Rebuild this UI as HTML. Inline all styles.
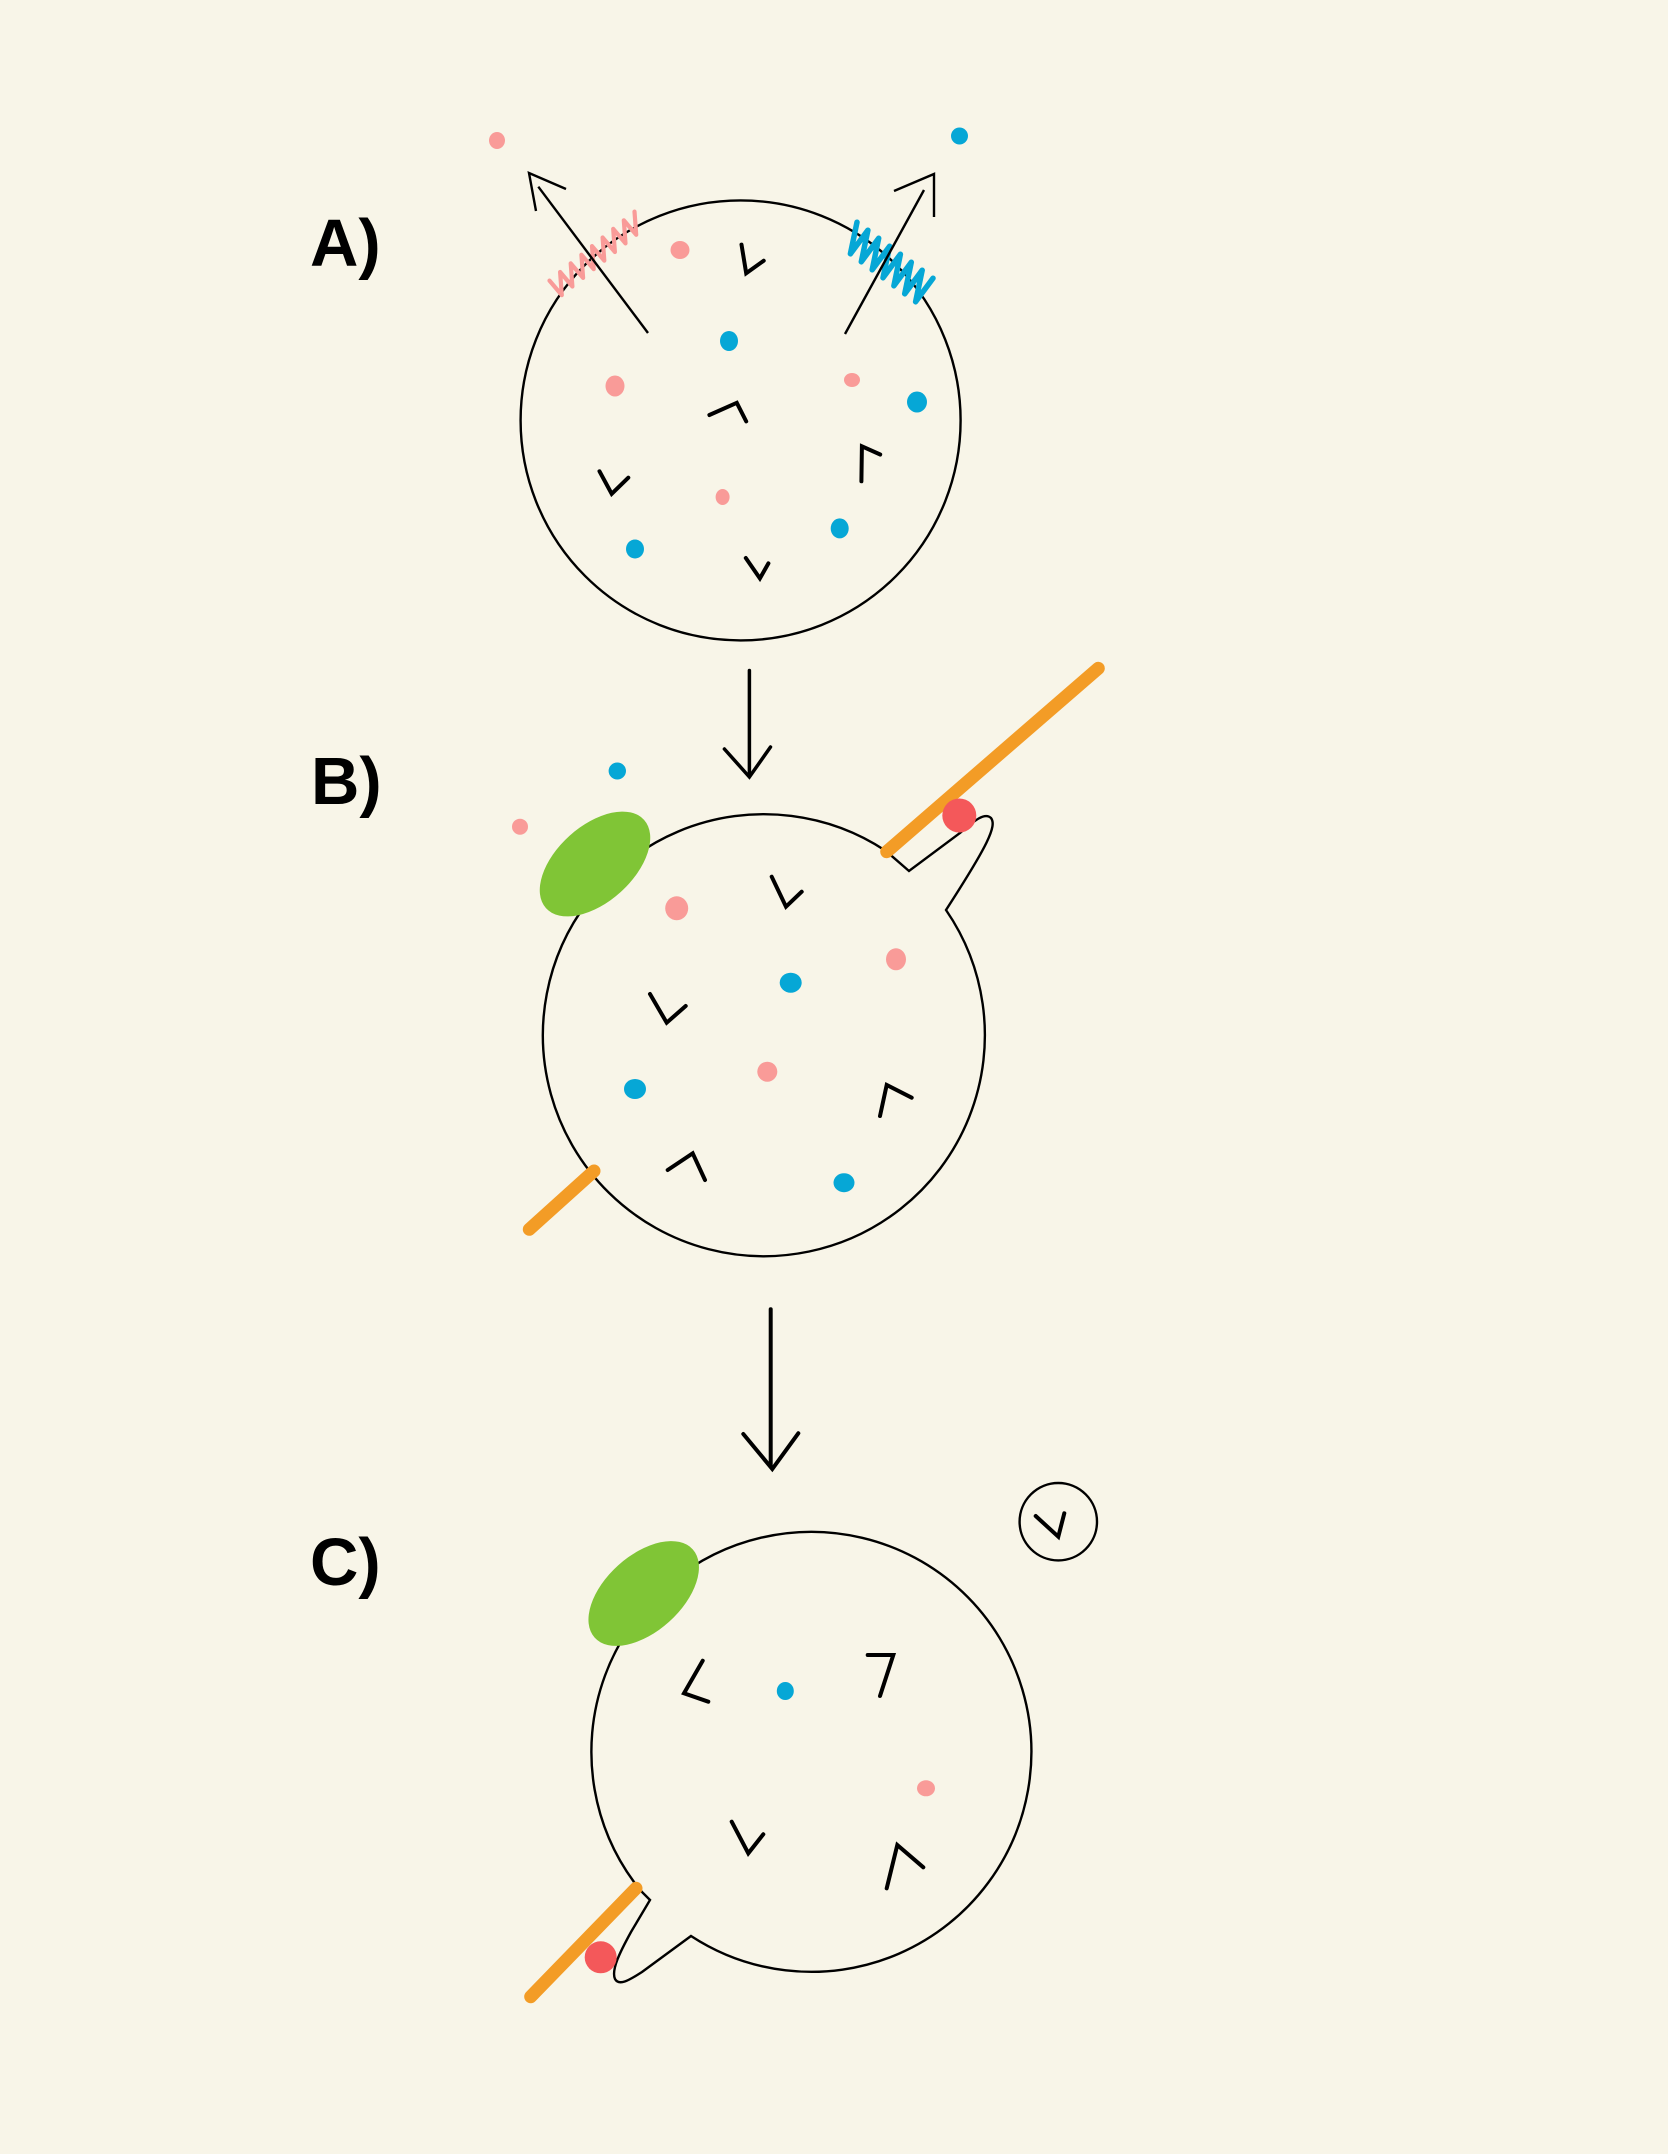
<!DOCTYPE html>
<html>
<head>
<meta charset="utf-8">
<style>
  html, body { margin: 0; padding: 0; background: #f8f5e8; }
  svg { display: block; }
  .lbl { font-family: "Liberation Sans", Arial, sans-serif; font-weight: bold; font-size: 67px; fill: #000; }
</style>
</head>
<body>
<svg width="1668" height="2154" viewBox="0 0 1668 2154" xmlns="http://www.w3.org/2000/svg">
  <rect x="0" y="0" width="1668" height="2154" fill="#f8f5e8"/>

  <!-- Labels -->
  <text class="lbl" x="310" y="266">A)</text>
  <text class="lbl" x="311" y="804">B)</text>
  <text class="lbl" x="310" y="1585">C)</text>

  <!-- ================= PANEL A ================= -->
  <circle cx="740.6" cy="420.4" r="220" fill="none" stroke="#000" stroke-width="2.4"/>

  <!-- pink spring -->
  <polyline fill="none" stroke="#f99b98" stroke-width="4.2" stroke-linejoin="round" stroke-linecap="round"
    points="549.5,280.6 561.8,295.1 560.1,272 572.4,286.5 570.7,263.4 583.1,277.9 581.4,254.7 593.7,269.2 592,246.1 604.3,260.6 602.6,237.5 614.9,252 613.2,228.9 625.5,243.4 623.8,220.3 636.2,234.8 634.5,211.6"/>
  <!-- blue spring -->
  <polyline fill="none" stroke="#06a7d6" stroke-width="5.5" stroke-linejoin="round" stroke-linecap="round"
    points="857,222.2 850.4,253.8 867.9,230.2 861.3,261.8 878.7,238.2 872.2,269.8 889.6,246.2 883,277.8 900.4,254.2 893.9,285.8 911.3,262.2 904.7,293.8 922.2,270.2 915.6,301.8 933,278.2"/>

  <!-- arrows A -->
  <g fill="none" stroke="#000" stroke-width="2.4" stroke-linecap="butt" stroke-linejoin="miter">
    <line x1="648" y1="333" x2="538.3" y2="186.7"/>
    <polyline points="566,189 529,173 536,211"/>
    <line x1="845" y1="334" x2="924" y2="190"/>
    <polyline points="894,191 934,174 934,217"/>
  </g>

  <!-- dots A -->
  <g fill="#f99b98">
    <ellipse cx="497" cy="140.5" rx="8" ry="8.5"/>
    <ellipse cx="680" cy="250" rx="9.5" ry="9"/>
    <ellipse cx="615" cy="386" rx="9.5" ry="10.5"/>
    <ellipse cx="852" cy="380" rx="8" ry="7"/>
    <ellipse cx="722.6" cy="497" rx="7" ry="8"/>
  </g>
  <g fill="#06a7d6">
    <ellipse cx="959.5" cy="136" rx="8.5" ry="8.5"/>
    <ellipse cx="729" cy="341" rx="9" ry="10"/>
    <ellipse cx="917" cy="402" rx="10" ry="10.5"/>
    <ellipse cx="839.7" cy="528.4" rx="9" ry="10"/>
    <ellipse cx="635" cy="549" rx="9" ry="9.5"/>
  </g>
  <!-- chevrons A -->
  <g fill="none" stroke="#000" stroke-width="4" stroke-linecap="round" stroke-linejoin="miter">
    <polyline points="741.5,244.6 746.2,273.2 763.7,260.7"/>
    <polyline points="709.4,415 736.8,402.8 746.2,421.4"/>
    <polyline points="861.4,481.3 861.9,446.3 880.2,454.5"/>
    <polyline points="599.5,471.3 611.7,493.8 628.3,477.7"/>
    <polyline points="745.8,558 759.9,578.4 768.4,563.4"/>
  </g>

  <!-- arrow A -> B -->
  <g fill="none" stroke="#000" stroke-width="3.5" stroke-linecap="round" stroke-linejoin="miter">
    <line x1="749.4" y1="670.5" x2="749.4" y2="775"/>
    <polyline points="724.4,749 749.4,777 770.5,747"/>
  </g>

  <!-- ================= PANEL B ================= -->
  <path d="M 946,910 A 221 221 0 1 1 886,851 L 909,871 L 960,833 C 975,820 985,812 991,818 C 997,826 988,845 946,910 Z"
        fill="none" stroke="#000" stroke-width="2.4" stroke-linejoin="miter"/>

  <!-- orange sticks B -->
  <g stroke="#f39c26" stroke-width="13" stroke-linecap="round">
    <line x1="886.7" y1="851.7" x2="1098.3" y2="668.3"/>
    <line x1="594" y1="1171" x2="529.3" y2="1229.3"/>
  </g>
  <circle cx="959.3" cy="815.5" r="17" fill="#f4585a"/>

  <!-- green ellipse B -->
  <ellipse cx="595" cy="864" rx="66" ry="38" fill="#80c536" transform="rotate(-42 595 864)"/>

  <!-- dots B -->
  <g fill="#f99b98">
    <ellipse cx="520" cy="826.7" rx="8" ry="8"/>
    <ellipse cx="676.7" cy="908.3" rx="11.5" ry="12"/>
    <ellipse cx="896" cy="959.3" rx="10" ry="11"/>
    <ellipse cx="767.3" cy="1071.7" rx="10" ry="10"/>
  </g>
  <g fill="#06a7d6">
    <ellipse cx="617.3" cy="771" rx="8.7" ry="8.5"/>
    <ellipse cx="790.7" cy="982.7" rx="11" ry="10"/>
    <ellipse cx="635" cy="1089" rx="11" ry="10"/>
    <ellipse cx="844" cy="1182.7" rx="10.5" ry="9.5"/>
  </g>
  <!-- chevrons B -->
  <g fill="none" stroke="#000" stroke-width="4" stroke-linecap="round" stroke-linejoin="miter">
    <polyline points="771.7,876.7 786,906.7 801.7,891.7"/>
    <polyline points="650,994 666.7,1022.7 685.7,1006"/>
    <polyline points="880,1116 886.7,1085 911.7,1097.7"/>
    <polyline points="667.7,1170 692.7,1153.3 705,1180"/>
  </g>

  <!-- arrow B -> C -->
  <g fill="none" stroke="#000" stroke-width="4" stroke-linecap="round" stroke-linejoin="miter">
    <line x1="770.7" y1="1309.3" x2="770.7" y2="1466"/>
    <polyline points="743.3,1434 772.3,1469 798.3,1433.3"/>
  </g>

  <!-- ================= PANEL C ================= -->
  <path d="M 691,1936 A 220 220 0 1 0 634,1882 L 642,1892 L 650,1900 L 631,1932 C 620,1952 611,1970 615,1979 C 619,1986 628,1981 642,1972 L 691,1936 Z"
        fill="none" stroke="#000" stroke-width="2.4" stroke-linejoin="miter"/>

  <line x1="636" y1="1888.3" x2="530.7" y2="1996.7" stroke="#f39c26" stroke-width="13" stroke-linecap="round"/>
  <circle cx="600.7" cy="1957.3" r="16" fill="#f4585a"/>

  <ellipse cx="643.7" cy="1593.5" rx="66" ry="38" fill="#80c536" transform="rotate(-42 643.7 1593.5)"/>

  <!-- small circle -->
  <circle cx="1058.3" cy="1521.7" r="38.7" fill="none" stroke="#000" stroke-width="2.4"/>

  <!-- dots C -->
  <ellipse cx="785.3" cy="1691" rx="8.5" ry="9" fill="#06a7d6"/>
  <ellipse cx="926" cy="1788.3" rx="9" ry="8" fill="#f99b98"/>

  <!-- chevrons C -->
  <g fill="none" stroke="#000" stroke-width="4" stroke-linecap="round" stroke-linejoin="miter">
    <polyline points="1035.7,1516 1058.3,1536.7 1064.3,1513.3"/>
    <polyline points="702.7,1660.7 684,1693.3 708.3,1701.7"/>
    <polyline points="867.7,1655 893.3,1655 880,1696"/>
    <polyline points="731.7,1821.7 748.3,1853.3 763.3,1834.3"/>
    <polyline points="886.7,1888.3 897.3,1845 923.3,1867.3"/>
  </g>
</svg>
</body>
</html>
